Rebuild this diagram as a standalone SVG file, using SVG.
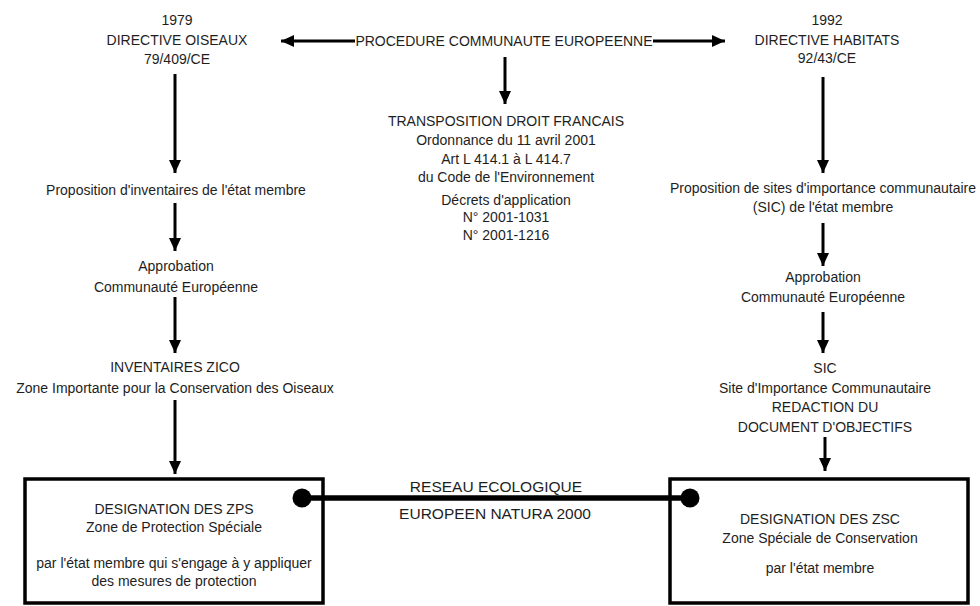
<svg xmlns="http://www.w3.org/2000/svg" width="980" height="606" viewBox="0 0 980 606">
<defs>
<style>
text{font-family:"Liberation Sans",Arial,sans-serif;font-size:14px;fill:#1e1e1e;text-anchor:middle}
.ln{stroke:#000;stroke-width:3;fill:none}
.box{stroke:#000;stroke-width:3.5;fill:#fff}
.big{font-size:15.5px}
</style>
<marker id="ah" markerUnits="userSpaceOnUse" markerWidth="14" markerHeight="12" refX="13" refY="6" orient="auto">
<path d="M0,0 L13,6 L0,12 Z" fill="#000"/>
</marker>
</defs>
<rect width="980" height="606" fill="#fff"/>

<g id="connectors">
<line class="ln" x1="355" y1="41" x2="281" y2="41" marker-end="url(#ah)"/>
<line class="ln" x1="653" y1="41" x2="725" y2="41" marker-end="url(#ah)"/>
<line class="ln" x1="505" y1="57" x2="505" y2="104" marker-end="url(#ah)"/>
<line class="ln" x1="175" y1="74" x2="175" y2="173" marker-end="url(#ah)"/>
<line class="ln" x1="175" y1="203" x2="175" y2="251" marker-end="url(#ah)"/>
<line class="ln" x1="175" y1="297" x2="175" y2="353" marker-end="url(#ah)"/>
<line class="ln" x1="175" y1="400" x2="175" y2="474" marker-end="url(#ah)"/>
<line class="ln" x1="823" y1="77" x2="823" y2="173" marker-end="url(#ah)"/>
<line class="ln" x1="823" y1="223" x2="823" y2="266" marker-end="url(#ah)"/>
<line class="ln" x1="823" y1="312" x2="823" y2="353" marker-end="url(#ah)"/>
<line class="ln" x1="825" y1="437" x2="825" y2="471" marker-end="url(#ah)"/>
</g>

<g id="procedure">
<text x="504" y="46">PROCEDURE COMMUNAUTE EUROPEENNE</text>
</g>

<g id="directive-oiseaux">
<text x="177" y="25">1979</text>
<text x="177" y="45">DIRECTIVE OISEAUX</text>
<text x="177" y="64">79/409/CE</text>
</g>

<g id="directive-habitats">
<text x="827" y="25">1992</text>
<text x="827" y="45">DIRECTIVE HABITATS</text>
<text x="827" y="63">92/43/CE</text>
</g>

<g id="transposition">
<text x="506" y="126">TRANSPOSITION DROIT FRANCAIS</text>
<text x="506" y="145">Ordonnance du 11 avril 2001</text>
<text x="506" y="164">Art L 414.1 à L 414.7</text>
<text x="506" y="182">du Code de l'Environnement</text>
<text x="506" y="205">Décrets d'application</text>
<text x="506" y="222">N° 2001-1031</text>
<text x="506" y="240">N° 2001-1216</text>
</g>

<g id="proposition-inventaires">
<text x="176" y="195">Proposition d'inventaires de l'état membre</text>
</g>

<g id="approbation-gauche">
<text x="176" y="271">Approbation</text>
<text x="176" y="292">Communauté Européenne</text>
</g>

<g id="zico">
<text x="175" y="372">INVENTAIRES ZICO</text>
<text x="175" y="393">Zone Importante pour la Conservation des Oiseaux</text>
</g>

<g id="proposition-sic">
<text x="823" y="193">Proposition de sites d'importance communautaire</text>
<text x="823" y="212">(SIC) de l'état membre</text>
</g>

<g id="approbation-droite">
<text x="823" y="282">Approbation</text>
<text x="823" y="302">Communauté Européenne</text>
</g>

<g id="sic">
<text x="825" y="373">SIC</text>
<text x="825" y="393">Site d'Importance Communautaire</text>
<text x="825" y="412">REDACTION DU</text>
<text x="825" y="432">DOCUMENT D'OBJECTIFS</text>
</g>

<g id="zps">
<rect class="box" x="25" y="479" width="298" height="124"/>
<text x="174" y="514">DESIGNATION DES ZPS</text>
<text x="174" y="532">Zone de Protection Spéciale</text>
<text x="174" y="568">par l'état membre qui s'engage à y appliquer</text>
<text x="174" y="586">des mesures de protection</text>
</g>

<g id="zsc">
<rect class="box" x="670" y="479" width="298" height="124"/>
<text x="820" y="524">DESIGNATION DES ZSC</text>
<text x="820" y="543">Zone Spéciale de Conservation</text>
<text x="820" y="573">par l'état membre</text>
</g>

<g id="reseau">
<line x1="302" y1="498" x2="690" y2="498" stroke="#000" stroke-width="5.5"/>
<circle cx="302" cy="498" r="9.5" fill="#000"/>
<circle cx="690" cy="498" r="9.5" fill="#000"/>
<text class="big" x="496" y="492">RESEAU ECOLOGIQUE</text>
<text class="big" x="495" y="519">EUROPEEN NATURA 2000</text>
</g>
</svg>
